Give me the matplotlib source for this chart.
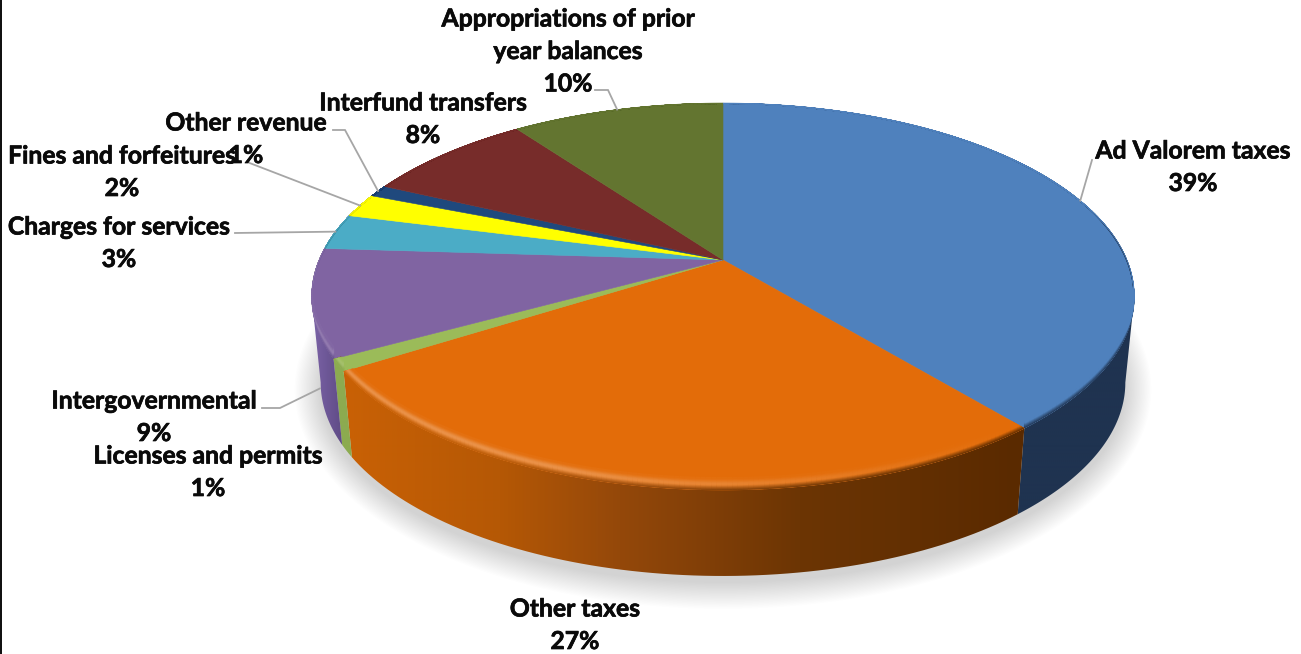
import numpy as np
import matplotlib
matplotlib.use("Agg")
import matplotlib.pyplot as plt
import matplotlib.patheffects as pe
from matplotlib.collections import LineCollection
from matplotlib.colors import to_rgb
from matplotlib.patches import Polygon, Rectangle

# Revenue shares, clockwise from twelve o'clock
categories = ["Ad Valorem taxes", "Other taxes", "Licenses and permits", "Intergovernmental",
              "Charges for services", "Fines and forfeitures", "Other revenue",
              "Interfund transfers", "Appropriations of prior\nyear balances"]
shares = [39, 27, 1, 9, 3, 2, 1, 8, 10]

face_colors = ["#4F81BD", "#E36C09", "#9BBB59", "#8064A2", "#4BACC6",
               "#FFFF00", "#1F497D", "#772C2A", "#637530"]
# Side wall colours as (pixel x, colour) stops
side_stops = [
    [(300, "#1F3350"), (1140, "#1F3350")],
    [(345, "#C96105"), (500, "#B55805"), (620, "#94480A"), (800, "#6C3504"), (1020, "#5A2A00")],
    [(300, "#8CAB50"), (400, "#8CAB50")],
    [(312, "#7A62A6"), (342, "#5F4B85")],
    [(300, "#3A8A9E"), (400, "#3A8A9E")],
    [(300, "#BBBB00"), (400, "#BBBB00")],
    [(300, "#15304F"), (400, "#15304F")],
    [(300, "#4F1D1C"), (600, "#4F1D1C")],
    [(500, "#414F20"), (800, "#414F20")],
]
rim_highlight = [0.0, 0.26, 0.16, 0.16, 0, 0, 0, 0, 0]

# label centre x, first-line y, leader polyline start (None = no leader), leader drops to wall
label_layout = [
    (1193, 151, [(1092, 160)], False),
    (575, 609, None, False),
    (208, 456, None, False),
    (154, 401, [(262, 408), (280, 408)], True),
    (119, 227, [(235, 233)], False),
    (122, 156, [(247, 162)], False),
    (246, 123, [(333, 130), (345, 130)], False),
    (423, 103, None, False),
    (568, 19, [(595, 90), (608, 90)], False),
]
LINE_STEP = 32.5

CX, CY = 723.0, 260.0
SCALE_X, SCALE_Y, TILT = 404.0, 186.6, 0.1886
DEPTH, BOTTOM_SHRINK = 86.0, 0.978
BEVEL = 12.0
# Rim angles where the disc outline turns, limiting the visible wall
WALL_FROM, WALL_TO = np.arccos(-TILT), 2 * np.pi - np.arccos(-TILT)


def project(theta):
    """Perspective projection of a rim angle (clockwise from top) to pixels."""
    x, y = np.sin(theta), np.cos(theta)
    w = 1 + TILT * y
    return CX + SCALE_X * x / w, CY - SCALE_Y * y / w, y


def stop_color(stops, px):
    xs = [s[0] for s in stops]
    rgb = np.array([to_rgb(s[1]) for s in stops])
    return np.stack([np.interp(px, xs, rgb[:, i]) for i in range(3)], axis=-1)


fig = plt.figure(figsize=(13.01, 6.54), dpi=100, facecolor="white")
ax = fig.add_axes([0, 0, 1, 1])
ax.set_axis_off()

fractions = np.array(shares) / sum(shares)
edges = np.concatenate([[0], np.cumsum(fractions)]) * 2 * np.pi

# Soft drop shadow under the disc
ring = np.linspace(0, 2 * np.pi, 400)
rx, ry, _ = project(ring)
bx = CX + (rx - CX) * BOTTOM_SHRINK
by = ry + DEPTH
mid_y = (by.max() + by.min()) / 2
half_w = (bx.max() - bx.min()) / 2
half_h = (by.max() - by.min()) / 2
for grow in np.linspace(26, 0, 22):
    sx = CX + (bx - CX) * (1 + grow / half_w)
    sy = mid_y + (by - mid_y) * (1 + grow / half_h) + 7
    ax.add_patch(Polygon(np.c_[sx, sy], closed=True, fc="black", ec="none", alpha=0.0062, zorder=1))

# Side walls, only where the rim faces the viewer
for i in range(len(shares)):
    start, stop = max(edges[i], WALL_FROM), min(edges[i + 1], WALL_TO)
    if stop <= start:
        continue
    theta = np.linspace(start, stop, 80)
    x, y, _ = project(theta)
    xb = CX + (x - CX) * BOTTOM_SHRINK
    yb = y + DEPTH
    wall = Polygon(np.r_[np.c_[x, y], np.c_[xb, yb][::-1]], closed=True, fc="none", ec="none",
                   transform=ax.transData)
    ax.add_patch(wall)
    px = np.linspace(300, 1140, 420)
    grad = stop_color(side_stops[i], px)[None, :, :]
    im = ax.imshow(grad, extent=(300, 1140, 600, 100), aspect="auto", zorder=2,
                   interpolation="bilinear")
    im.set_clip_path(wall)

# Top faces with a bevelled front rim
for i in range(len(shares)):
    theta = np.linspace(edges[i], edges[i + 1], 160)
    x, y, cosy = project(theta)
    face = Polygon(np.r_[[[CX, CY]], np.c_[x, y]], closed=True, fc=face_colors[i],
                   ec=face_colors[i], lw=0.4, zorder=3)
    ax.add_patch(face)

    base = np.array(to_rgb(face_colors[i]))
    weight = np.clip((0.35 - cosy) / 0.8, 0, 1)
    offset = BEVEL * weight
    segs, cols = [], []
    for u in np.linspace(0, 1, 16):
        ly = y - offset * u
        pts = np.c_[x, ly]
        seg = np.stack([pts[:-1], pts[1:]], axis=1)
        mid_x = (x[:-1] + x[1:]) / 2
        edge = stop_color(side_stops[i], mid_x)
        mix = np.clip(u * 2.2, 0, 1) ** 1.2
        col = edge * (1 - mix) + base * mix
        glow = rim_highlight[i] * np.clip((1010 - mid_x) / 450, 0, 1) * np.exp(-((u - 0.55) / 0.3) ** 2)
        col = col + (1 - col) * glow[:, None]
        segs.append(seg)
        cols.append(col)
    lc = LineCollection(np.concatenate(segs), colors=np.concatenate(cols), linewidths=1.4, zorder=4)
    ax.add_collection(lc)
    lc.set_clip_path(face)

# Labels and leader lines
for i, (name, share, layout) in enumerate(zip(categories, shares, label_layout)):
    lx, ly, lead, drop = layout
    lines = name.split("\n") + [f"{share}%"]
    for k, text in enumerate(lines):
        label = ax.text(lx, ly + k * LINE_STEP, text, ha="center", va="center", family="Lato",
                        weight="bold", fontsize=17.8, color="#0A0A0A", zorder=6)
        label.set_path_effects([pe.withStroke(linewidth=0.5, foreground="#0A0A0A")])
    if lead:
        ex, ey, _ = project((edges[i] + edges[i + 1]) / 2)
        if drop:
            ex = CX + (ex - CX) * (1 - (1 - BOTTOM_SHRINK) * 0.9)
            ey = ey + DEPTH
        path = np.array(lead + [(ex, ey)])
        ax.plot(path[:, 0], path[:, 1], color="#A6A6A6", lw=1.3, zorder=5, solid_joinstyle="miter")

# Dark strip down the left edge
ax.add_patch(Rectangle((0, 0), 2.3, 654, fc="#111111", ec="none", zorder=7))

ax.set_xlim(0, 1301)
ax.set_ylim(654, 0)
fig.savefig("out.png", dpi=100, facecolor="white")
